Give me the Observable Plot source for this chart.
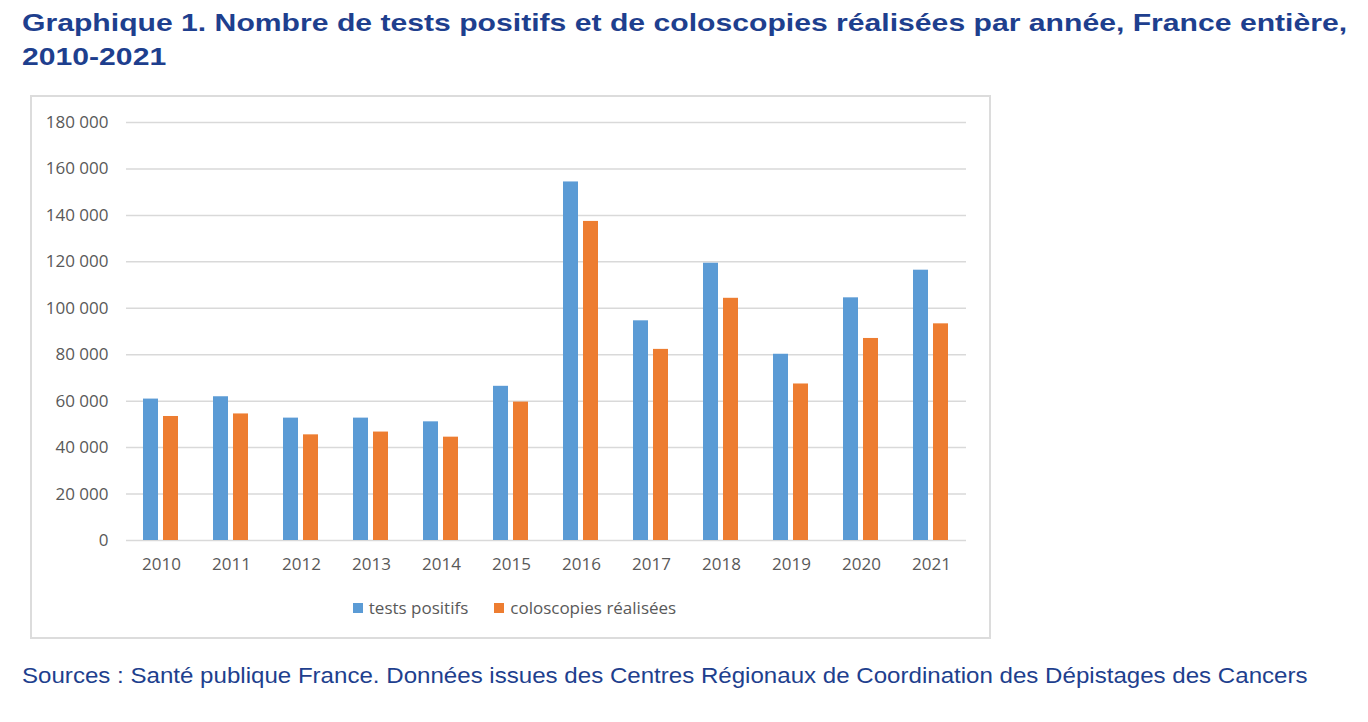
<!DOCTYPE html>
<html lang="fr">
<head>
<meta charset="utf-8">
<script src="https://cdn.jsdelivr.net/npm/d3@7"></script>
<script src="https://cdn.jsdelivr.net/npm/@observablehq/plot@0.6"></script>
<style>
  html, body { margin: 0; padding: 0; background: #fff; }
  body { width: 1368px; height: 722px; position: relative; overflow: hidden; }
  #title {
    position: absolute; left: 22px; top: 6px;
    font-family: "Liberation Sans", Arial, sans-serif; font-weight: bold;
    font-size: 24px; line-height: 34px; color: #1e3f8e; white-space: nowrap;
    transform-origin: 0 0; transform: scaleX(1.256);
  }
  #box {
    position: absolute; left: 30px; top: 95px; width: 961px; height: 544px;
    box-sizing: border-box; border: 2px solid #dcdcdc; background: #fff;
  }
  #legend { margin-top: 6px; padding-left: 8px; }
  #legend .lg-swatches { justify-content: center; }
  #legend .lg-swatch { margin: 0 13px !important; }
  #legend .lg-swatch > svg { margin-right: 6px !important; }
  #source {
    position: absolute; left: 22px; top: 662px; white-space: nowrap;
    font-family: "Liberation Sans", Arial, sans-serif; font-size: 22px;
    line-height: 28px; color: #1e3f8e; transform-origin: 0 0; transform: scaleX(1.095);
  }
</style>
</head>
<body>
<div id="title">Graphique 1. Nombre de tests positifs et de coloscopies réalisées par année, France entière,<br>2010-2021</div>
<div id="box"><div id="chart"></div><div id="legend"></div></div>
<div id="source">Sources : Santé publique France. Données issues des Centres Régionaux de Coordination des Dépistages des Cancers</div>
<script>
const years = ["2010","2011","2012","2013","2014","2015","2016","2017","2018","2019","2020","2021"];
const seriesNames = ["tests positifs", "coloscopies réalisées"];
const seriesColors = ["#5b9bd5", "#ed7d31"];
const testsPositifs = [60900, 61900, 52700, 52700, 51100, 66400, 154400, 94600, 119400, 80200, 104500, 116400];
const coloscopies = [53400, 54500, 45500, 46700, 44500, 59600, 137400, 82300, 104300, 67400, 87000, 93300];
const yTicks = [0, 20000, 40000, 60000, 80000, 100000, 120000, 140000, 160000, 180000];

const data = [];
years.forEach((y, i) => {
  data.push({year: y, series: seriesNames[0], value: testsPositifs[i]});
  data.push({year: y, series: seriesNames[1], value: coloscopies[i]});
});

const fmt = d => d3.format(",")(d).replace(/,/g, " ");

const chart = Plot.plot({
  width: 957,
  height: 488,
  marginLeft: 90,
  marginRight: 19,
  marginTop: 25,
  marginBottom: 45,
  style: {fontFamily: "'Open Sans', sans-serif", fontSize: "17px", color: "#595959", background: "transparent"},
  fx: {domain: years, padding: 0, axis: "bottom", label: null, tickSize: 0, tickPadding: 17},
  x: {domain: seriesNames, paddingInner: 0.23, paddingOuter: 0.8, axis: null},
  y: {domain: [0, 180000], ticks: yTicks, tickFormat: fmt, tickSize: 0, tickPadding: 18, label: null},
  color: {domain: seriesNames, range: seriesColors},
  marks: [
    Plot.ruleY(yTicks, {stroke: "#d9d9d9", strokeWidth: 1.5}),
    Plot.barY(data, {fx: "year", x: "series", y: "value", fill: "series"})
  ]
});
document.getElementById("chart").appendChild(chart);

const legend = Plot.legend({
  color: {domain: seriesNames, range: seriesColors},
  swatchSize: 10,
  className: "lg",
  style: {fontFamily: "'Open Sans', sans-serif", fontSize: "17px", color: "#595959"}
});
document.getElementById("legend").appendChild(legend);
</script>
</body>
</html>
